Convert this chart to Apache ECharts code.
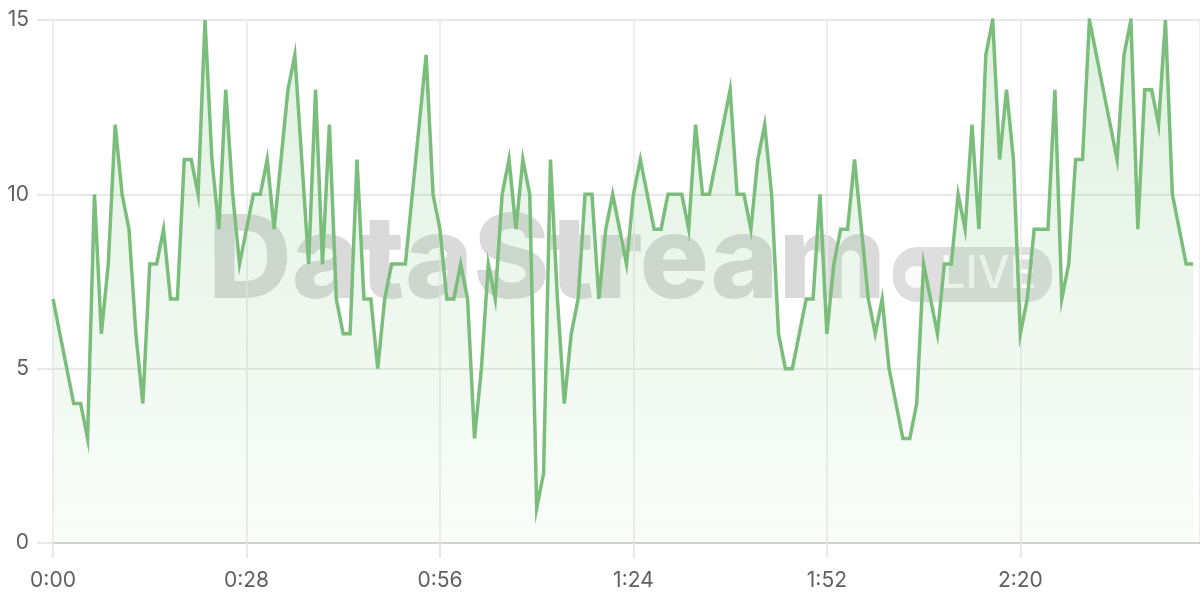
<!DOCTYPE html>
<html>
<head>
<meta charset="utf-8">
<script src="https://cdn.jsdelivr.net/npm/echarts@6/dist/echarts.min.js"></script>
<style>
html,body{margin:0;padding:0;background:#fff;}
#chart{width:1200px;height:600px;}
</style>
</head>
<body>
<div id="chart"></div>
<script>
// sampled value per second, t = 0 .. 165 s
const values = [
  7,6,5,4,4,3,10,6,8,12,
  10,9,6,4,8,8,9,7,7,11,
  11,10,15,11,9,13,10,8,9,10,
  10,11,9,11,13,14,11,8,13,8,
  12,7,6,6,11,7,7,5,7,8,
  8,8,10,12,14,10,9,7,7,8,
  7,3,5,8,7,10,11,9,11,10,
  1,2,11,7,4,6,7,10,10,7,
  9,10,9,8,10,11,10,9,9,10,
  10,10,9,12,10,10,11,12,13,10,
  10,9,11,12,10,6,5,5,6,7,
  7,10,6,8,9,9,11,9,7,6,
  7,5,4,3,3,4,8,7,6,8,
  8,10,9,12,9,14,15,11,13,11,
  6,7,9,9,9,13,7,8,11,11,
  15,14,13,12,11,14,15,9,13,13,
  12,15,10,9,8,8
];
const seconds = values.map((_, i) => i);
const xTickSeconds = [0, 28, 56, 84, 112, 140];
const yTicks = [0, 5, 10, 15];
const watermarkTitle = 'DataStream';
const watermarkBadge = 'LIVE';

function fmt(s) {
  const m = Math.floor(s / 60);
  const ss = Math.round(s % 60);
  return m + ':' + (ss < 10 ? '0' : '') + ss;
}

const chart = echarts.init(document.getElementById('chart'), null, {renderer: 'canvas'});
const gridColor = '#e9e9e9';
const labelStyle = {color: '#606060', fontSize: 21, fontFamily: 'Inter, "Noto Sans", sans-serif'};

chart.setOption({
  animation: false,
  grid: {left: 53, right: 0, top: 20, bottom: 57, containLabel: false},
  xAxis: {
    type: 'value',
    min: 0,
    max: 166,
    interval: 28,
    axisLine: {show: true, lineStyle: {color: '#d2d2d2', width: 2}},
    axisTick: {show: true, length: 15, lineStyle: {color: gridColor, width: 2}},
    axisLabel: Object.assign({margin: 27, showMaxLabel: false, formatter: v => xTickSeconds.indexOf(v) >= 0 ? fmt(v) : ''}, labelStyle),
    splitLine: {show: true, lineStyle: {color: gridColor, width: 1.5}}
  },
  yAxis: {
    type: 'value',
    min: yTicks[0],
    max: yTicks[yTicks.length - 1],
    interval: 5,
    axisLine: {show: false},
    axisTick: {show: true, length: 16, lineStyle: {color: gridColor, width: 2}},
    axisLabel: Object.assign({margin: 24}, labelStyle),
    splitLine: {show: true, lineStyle: {color: gridColor, width: 2}}
  },
  graphic: [
    {
      type: 'text', z: 0, left: 208, top: 205,
      style: {text: watermarkTitle, font: '800 116px Inter, "Noto Sans", sans-serif', fill: 'rgba(0,0,0,0.145)'}
    },
    {
      type: 'rect', z: 0, shape: {x: 893, y: 247, width: 159, height: 55, r: 24},
      style: {fill: 'rgba(0,0,0,0.13)'}
    },
    {
      type: 'circle', z: 0, shape: {cx: 916, cy: 277, r: 11},
      style: {fill: 'rgba(255,255,255,0.85)'}
    },
    {
      type: 'text', z: 0, left: 940, top: 252,
      style: {text: watermarkBadge, font: '500 45px Inter, "Noto Sans", sans-serif', fill: 'rgba(255,255,255,0.85)'}
    }
  ],
  series: [{
    type: 'line',
    z: 5,
    data: seconds.map((s, i) => [s, values[i]]),
    symbol: 'none',
    smooth: false,
    lineStyle: {color: '#7bbe7c', width: 3.5, join: 'miter', miterLimit: 10},
    areaStyle: {
      color: new echarts.graphic.LinearGradient(0, 0, 0, 1, [
        {offset: 0, color: 'rgba(129,199,132,0.36)'},
        {offset: 1, color: 'rgba(129,199,132,0.06)'}
      ])
    }
  }]
});
</script>
</body>
</html>
